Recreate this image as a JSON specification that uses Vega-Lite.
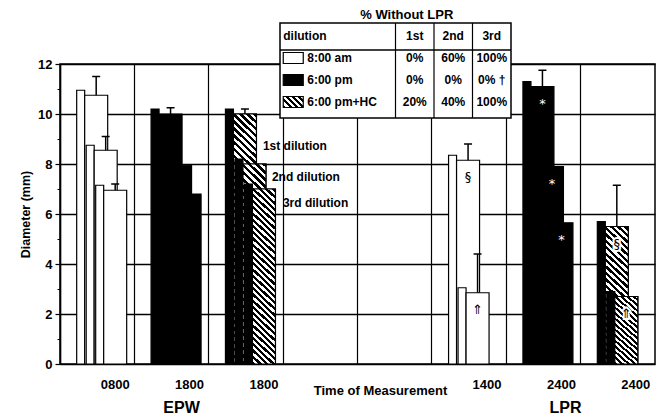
{
"$schema":"https://vega.github.io/schema/vega-lite/v6.json",
"width":595,"height":300,
"autosize":"none",
"padding":{"left":60,"top":64,"right":3,"bottom":55},
"background":"white",
"config":{"font":"Liberation Sans","view":{"stroke":"#000","strokeWidth":1.5},"axis":{"labelColor":"#000","titleColor":"#000"}},
"datasets":{
"bars":[
{"slot":"0800|EPW 8am","dil":"1st","time":"8:00 am","v":10.75,"err":11.5,"sym":""},
{"slot":"0800|EPW 8am","dil":"2nd","time":"8:00 am","v":8.55,"err":9.1,"sym":""},
{"slot":"0800|EPW 8am","dil":"3rd","time":"8:00 am","v":6.95,"err":7.2,"sym":""},
{"slot":"1800|EPW 6pm","dil":"1st","time":"6:00 pm","v":10.0,"err":10.25,"sym":""},
{"slot":"1800|EPW 6pm","dil":"2nd","time":"6:00 pm","v":7.95,"err":null,"sym":""},
{"slot":"1800|EPW 6pm","dil":"3rd","time":"6:00 pm","v":6.8,"err":null,"sym":""},
{"slot":"1800|EPW HC","dil":"1st","time":"6:00 pm+HC","v":10.0,"err":10.2,"sym":""},
{"slot":"1800|EPW HC","dil":"2nd","time":"6:00 pm+HC","v":8.0,"err":null,"sym":""},
{"slot":"1800|EPW HC","dil":"3rd","time":"6:00 pm+HC","v":7.0,"err":null,"sym":""},
{"slot":"1400|LPR 8am","dil":"1st","time":"8:00 am","v":8.15,"err":8.8,"sym":"§"},
{"slot":"1400|LPR 8am","dil":"2nd","time":"8:00 am","v":2.85,"err":4.4,"sym":"⇑"},
{"slot":"2400|LPR 6pm","dil":"1st","time":"6:00 pm","v":11.1,"err":11.75,"sym":"*"},
{"slot":"2400|LPR 6pm","dil":"2nd","time":"6:00 pm","v":7.9,"err":null,"sym":"*"},
{"slot":"2400|LPR 6pm","dil":"3rd","time":"6:00 pm","v":5.65,"err":null,"sym":"*"},
{"slot":"2400|LPR HC","dil":"1st","time":"6:00 pm+HC","v":5.5,"err":7.15,"sym":"§"},
{"slot":"2400|LPR HC","dil":"2nd","time":"6:00 pm+HC","v":2.7,"err":null,"sym":"⇑"}
],
"tbl":[
{"row":"h","col":"1st","txt":"1st"},{"row":"h","col":"2nd","txt":"2nd"},{"row":"h","col":"3rd","txt":"3rd"},
{"row":"r1","col":"1st","txt":"0%"},{"row":"r1","col":"2nd","txt":"60%"},{"row":"r1","col":"3rd","txt":"100%"},
{"row":"r2","col":"1st","txt":"0%"},{"row":"r2","col":"2nd","txt":"0%"},{"row":"r2","col":"3rd","txt":"0% †"},
{"row":"r3","col":"1st","txt":"20%"},{"row":"r3","col":"2nd","txt":"40%"},{"row":"r3","col":"3rd","txt":"100%"}
],
"rows":[{"row":"r1","time":"8:00 am"},{"row":"r2","time":"6:00 pm"},{"row":"r3","time":"6:00 pm+HC"}]
},
"layer":[
{
"resolve":{"axis":{"y":"independent"}},
"layer":[
{"data":{"values":[{}]},"mark":{"type":"rule","opacity":0},"encoding":{"y":{"datum":0,"type":"quantitative","scale":{"domain":[0,12],"nice":false},"axis":{"orient":"left","values":[1,3,5,7,9,11],"labels":false,"domain":false,"grid":false,"tickSize":3,"tickColor":"#000","tickWidth":1,"title":null}}}},
{
"data":{"name":"bars"},
"encoding":{
"x":{"field":"slot","type":"nominal","sort":null,"scale":{"type":"band","domain":["0800|EPW 8am","1800|EPW 6pm","1800|EPW HC","|a","|b","1400|LPR 8am","2400|LPR 6pm","2400|LPR HC"],"paddingInner":0,"paddingOuter":0},
"axis":{"title":"Time of Measurement","titleX":320,"titleY":26,"titleBaseline":"middle","titleAlign":"center","titleFontSize":13,"titleFontWeight":"bold","labelExpr":"split(datum.label,'|')[0]","bandPosition":0,"labelOffset":18,"labelPadding":14,"labelFontSize":13,"labelFontWeight":"bold","labelAngle":0,"labelOverlap":false,"ticks":false,"tickSize":0,"domain":false,"grid":true,"gridColor":"#000","gridWidth":1.2,"gridOpacity":1}},
"y":{"field":"v","type":"quantitative","stack":null,"scale":{"domain":[0,12],"nice":false},
"axis":{"orient":"left","title":"Diameter (mm)","values":[0,2,4,6,8,10,12],"grid":true,"gridColor":"#000","gridWidth":1.5,"gridOpacity":1,"tickColor":"#000","tickSize":5,"tickWidth":1.2,"domainColor":"#000","domainWidth":1.5,"labelFontSize":13,"labelFontWeight":"bold","labelPadding":3,"titleFontSize":12.5,"titleFontWeight":"bold","titlePadding":5}}
},
"layer":[
{"transform":[{"filter":"datum.dil=='1st'"}],"mark":{"type":"bar","width":8,"xOffset":-16.5,"yOffset":-5,"y2Offset":4,"stroke":"#000","strokeWidth":1.2},"encoding":{"fill":{"condition":{"test":"datum.time=='8:00 am'","value":"#fff"},"value":"#000"}}},
{"transform":[{"filter":"datum.dil=='1st'"}],"mark":{"type":"bar","width":23,"xOffset":-1,"y2Offset":9,"stroke":"#000","strokeWidth":1.2},"encoding":{"fill":{"condition":{"test":"datum.time=='6:00 pm'","value":"#000"},"value":"#fff"}}},
{"transform":[{"filter":"datum.dil=='1st' && datum.slot=='1800|EPW HC'"}],"mark":{"type":"bar","width":23,"xOffset":-1,"y2Offset":9,"stroke":"#000","strokeWidth":1.2,"fill":{"gradient":"linear","x1":0,"y1":1,"x2":0.0971,"y2":-0.094,"stops":[
{"offset":0,"color":"#000"},{"offset":0.0125,"color":"#000"},{"offset":0.0125,"color":"#fff"},{"offset":0.025,"color":"#fff"},
{"offset":0.025,"color":"#000"},{"offset":0.0375,"color":"#000"},{"offset":0.0375,"color":"#fff"},{"offset":0.05,"color":"#fff"},
{"offset":0.05,"color":"#000"},{"offset":0.0625,"color":"#000"},{"offset":0.0625,"color":"#fff"},{"offset":0.075,"color":"#fff"},
{"offset":0.075,"color":"#000"},{"offset":0.0875,"color":"#000"},{"offset":0.0875,"color":"#fff"},{"offset":0.1,"color":"#fff"},
{"offset":0.1,"color":"#000"},{"offset":0.1125,"color":"#000"},{"offset":0.1125,"color":"#fff"},{"offset":0.125,"color":"#fff"},
{"offset":0.125,"color":"#000"},{"offset":0.1375,"color":"#000"},{"offset":0.1375,"color":"#fff"},{"offset":0.15,"color":"#fff"},
{"offset":0.15,"color":"#000"},{"offset":0.1625,"color":"#000"},{"offset":0.1625,"color":"#fff"},{"offset":0.175,"color":"#fff"},
{"offset":0.175,"color":"#000"},{"offset":0.1875,"color":"#000"},{"offset":0.1875,"color":"#fff"},{"offset":0.2,"color":"#fff"},
{"offset":0.2,"color":"#000"},{"offset":0.2125,"color":"#000"},{"offset":0.2125,"color":"#fff"},{"offset":0.225,"color":"#fff"},
{"offset":0.225,"color":"#000"},{"offset":0.2375,"color":"#000"},{"offset":0.2375,"color":"#fff"},{"offset":0.25,"color":"#fff"},
{"offset":0.25,"color":"#000"},{"offset":0.2625,"color":"#000"},{"offset":0.2625,"color":"#fff"},{"offset":0.275,"color":"#fff"},
{"offset":0.275,"color":"#000"},{"offset":0.2875,"color":"#000"},{"offset":0.2875,"color":"#fff"},{"offset":0.3,"color":"#fff"},
{"offset":0.3,"color":"#000"},{"offset":0.3125,"color":"#000"},{"offset":0.3125,"color":"#fff"},{"offset":0.325,"color":"#fff"},
{"offset":0.325,"color":"#000"},{"offset":0.3375,"color":"#000"},{"offset":0.3375,"color":"#fff"},{"offset":0.35,"color":"#fff"},
{"offset":0.35,"color":"#000"},{"offset":0.3625,"color":"#000"},{"offset":0.3625,"color":"#fff"},{"offset":0.375,"color":"#fff"},
{"offset":0.375,"color":"#000"},{"offset":0.3875,"color":"#000"},{"offset":0.3875,"color":"#fff"},{"offset":0.4,"color":"#fff"},
{"offset":0.4,"color":"#000"},{"offset":0.4125,"color":"#000"},{"offset":0.4125,"color":"#fff"},{"offset":0.425,"color":"#fff"},
{"offset":0.425,"color":"#000"},{"offset":0.4375,"color":"#000"},{"offset":0.4375,"color":"#fff"},{"offset":0.45,"color":"#fff"},
{"offset":0.45,"color":"#000"},{"offset":0.4625,"color":"#000"},{"offset":0.4625,"color":"#fff"},{"offset":0.475,"color":"#fff"},
{"offset":0.475,"color":"#000"},{"offset":0.4875,"color":"#000"},{"offset":0.4875,"color":"#fff"},{"offset":0.5,"color":"#fff"},
{"offset":0.5,"color":"#000"},{"offset":0.5125,"color":"#000"},{"offset":0.5125,"color":"#fff"},{"offset":0.525,"color":"#fff"},
{"offset":0.525,"color":"#000"},{"offset":0.5375,"color":"#000"},{"offset":0.5375,"color":"#fff"},{"offset":0.55,"color":"#fff"},
{"offset":0.55,"color":"#000"},{"offset":0.5625,"color":"#000"},{"offset":0.5625,"color":"#fff"},{"offset":0.575,"color":"#fff"},
{"offset":0.575,"color":"#000"},{"offset":0.5875,"color":"#000"},{"offset":0.5875,"color":"#fff"},{"offset":0.6,"color":"#fff"},
{"offset":0.6,"color":"#000"},{"offset":0.6125,"color":"#000"},{"offset":0.6125,"color":"#fff"},{"offset":0.625,"color":"#fff"},
{"offset":0.625,"color":"#000"},{"offset":0.6375,"color":"#000"},{"offset":0.6375,"color":"#fff"},{"offset":0.65,"color":"#fff"},
{"offset":0.65,"color":"#000"},{"offset":0.6625,"color":"#000"},{"offset":0.6625,"color":"#fff"},{"offset":0.675,"color":"#fff"},
{"offset":0.675,"color":"#000"},{"offset":0.6875,"color":"#000"},{"offset":0.6875,"color":"#fff"},{"offset":0.7,"color":"#fff"},
{"offset":0.7,"color":"#000"},{"offset":0.7125,"color":"#000"},{"offset":0.7125,"color":"#fff"},{"offset":0.725,"color":"#fff"},
{"offset":0.725,"color":"#000"},{"offset":0.7375,"color":"#000"},{"offset":0.7375,"color":"#fff"},{"offset":0.75,"color":"#fff"},
{"offset":0.75,"color":"#000"},{"offset":0.7625,"color":"#000"},{"offset":0.7625,"color":"#fff"},{"offset":0.775,"color":"#fff"},
{"offset":0.775,"color":"#000"},{"offset":0.7875,"color":"#000"},{"offset":0.7875,"color":"#fff"},{"offset":0.8,"color":"#fff"},
{"offset":0.8,"color":"#000"},{"offset":0.8125,"color":"#000"},{"offset":0.8125,"color":"#fff"},{"offset":0.825,"color":"#fff"},
{"offset":0.825,"color":"#000"},{"offset":0.8375,"color":"#000"},{"offset":0.8375,"color":"#fff"},{"offset":0.85,"color":"#fff"},
{"offset":0.85,"color":"#000"},{"offset":0.8625,"color":"#000"},{"offset":0.8625,"color":"#fff"},{"offset":0.875,"color":"#fff"},
{"offset":0.875,"color":"#000"},{"offset":0.8875,"color":"#000"},{"offset":0.8875,"color":"#fff"},{"offset":0.9,"color":"#fff"},
{"offset":0.9,"color":"#000"},{"offset":0.9125,"color":"#000"},{"offset":0.9125,"color":"#fff"},{"offset":0.925,"color":"#fff"},
{"offset":0.925,"color":"#000"},{"offset":0.9375,"color":"#000"},{"offset":0.9375,"color":"#fff"},{"offset":0.95,"color":"#fff"},
{"offset":0.95,"color":"#000"},{"offset":0.9625,"color":"#000"},{"offset":0.9625,"color":"#fff"},{"offset":0.975,"color":"#fff"},
{"offset":0.975,"color":"#000"},{"offset":0.9875,"color":"#000"},{"offset":0.9875,"color":"#fff"},{"offset":1,"color":"#fff"}
]}}},
{"transform":[{"filter":"datum.dil=='1st' && datum.slot=='2400|LPR HC'"}],"mark":{"type":"bar","width":23,"xOffset":-1,"y2Offset":9,"stroke":"#000","strokeWidth":1.2,"fill":{"gradient":"linear","x1":0,"y1":1,"x2":0.179,"y2":-0.14,"stops":[
{"offset":0,"color":"#000"},{"offset":0.02,"color":"#000"},{"offset":0.02,"color":"#fff"},{"offset":0.04,"color":"#fff"},
{"offset":0.04,"color":"#000"},{"offset":0.06,"color":"#000"},{"offset":0.06,"color":"#fff"},{"offset":0.08,"color":"#fff"},
{"offset":0.08,"color":"#000"},{"offset":0.1,"color":"#000"},{"offset":0.1,"color":"#fff"},{"offset":0.12,"color":"#fff"},
{"offset":0.12,"color":"#000"},{"offset":0.14,"color":"#000"},{"offset":0.14,"color":"#fff"},{"offset":0.16,"color":"#fff"},
{"offset":0.16,"color":"#000"},{"offset":0.18,"color":"#000"},{"offset":0.18,"color":"#fff"},{"offset":0.2,"color":"#fff"},
{"offset":0.2,"color":"#000"},{"offset":0.22,"color":"#000"},{"offset":0.22,"color":"#fff"},{"offset":0.24,"color":"#fff"},
{"offset":0.24,"color":"#000"},{"offset":0.26,"color":"#000"},{"offset":0.26,"color":"#fff"},{"offset":0.28,"color":"#fff"},
{"offset":0.28,"color":"#000"},{"offset":0.3,"color":"#000"},{"offset":0.3,"color":"#fff"},{"offset":0.32,"color":"#fff"},
{"offset":0.32,"color":"#000"},{"offset":0.34,"color":"#000"},{"offset":0.34,"color":"#fff"},{"offset":0.36,"color":"#fff"},
{"offset":0.36,"color":"#000"},{"offset":0.38,"color":"#000"},{"offset":0.38,"color":"#fff"},{"offset":0.4,"color":"#fff"},
{"offset":0.4,"color":"#000"},{"offset":0.42,"color":"#000"},{"offset":0.42,"color":"#fff"},{"offset":0.44,"color":"#fff"},
{"offset":0.44,"color":"#000"},{"offset":0.46,"color":"#000"},{"offset":0.46,"color":"#fff"},{"offset":0.48,"color":"#fff"},
{"offset":0.48,"color":"#000"},{"offset":0.5,"color":"#000"},{"offset":0.5,"color":"#fff"},{"offset":0.52,"color":"#fff"},
{"offset":0.52,"color":"#000"},{"offset":0.54,"color":"#000"},{"offset":0.54,"color":"#fff"},{"offset":0.56,"color":"#fff"},
{"offset":0.56,"color":"#000"},{"offset":0.58,"color":"#000"},{"offset":0.58,"color":"#fff"},{"offset":0.6,"color":"#fff"},
{"offset":0.6,"color":"#000"},{"offset":0.62,"color":"#000"},{"offset":0.62,"color":"#fff"},{"offset":0.64,"color":"#fff"},
{"offset":0.64,"color":"#000"},{"offset":0.66,"color":"#000"},{"offset":0.66,"color":"#fff"},{"offset":0.68,"color":"#fff"},
{"offset":0.68,"color":"#000"},{"offset":0.7,"color":"#000"},{"offset":0.7,"color":"#fff"},{"offset":0.72,"color":"#fff"},
{"offset":0.72,"color":"#000"},{"offset":0.74,"color":"#000"},{"offset":0.74,"color":"#fff"},{"offset":0.76,"color":"#fff"},
{"offset":0.76,"color":"#000"},{"offset":0.78,"color":"#000"},{"offset":0.78,"color":"#fff"},{"offset":0.8,"color":"#fff"},
{"offset":0.8,"color":"#000"},{"offset":0.82,"color":"#000"},{"offset":0.82,"color":"#fff"},{"offset":0.84,"color":"#fff"},
{"offset":0.84,"color":"#000"},{"offset":0.86,"color":"#000"},{"offset":0.86,"color":"#fff"},{"offset":0.88,"color":"#fff"},
{"offset":0.88,"color":"#000"},{"offset":0.9,"color":"#000"},{"offset":0.9,"color":"#fff"},{"offset":0.92,"color":"#fff"},
{"offset":0.92,"color":"#000"},{"offset":0.94,"color":"#000"},{"offset":0.94,"color":"#fff"},{"offset":0.96,"color":"#fff"},
{"offset":0.96,"color":"#000"},{"offset":0.98,"color":"#000"},{"offset":0.98,"color":"#fff"},{"offset":1,"color":"#fff"}
]}}},
{"transform":[{"filter":"datum.dil=='1st' && isValid(datum.err)"}],"mark":{"type":"rule","xOffset":-1,"strokeWidth":1.5,"color":"#000"},"encoding":{"y2":{"field":"err"}}},
{"transform":[{"filter":"datum.dil=='1st' && isValid(datum.err)"}],"mark":{"type":"tick","orient":"horizontal","xOffset":-1,"size":8,"thickness":1.5,"color":"#000","opacity":1},"encoding":{"y":{"field":"err","type":"quantitative"}}},
{"transform":[{"filter":"datum.dil=='1st' && datum.time=='6:00 pm+HC' && datum.sym!=''"}],"mark":{"type":"text","dx":-1,"dy":17,"fontSize":13,"font":"DejaVu Sans","fill":"#fff","stroke":"#fff","strokeWidth":4},"encoding":{"text":{"field":"sym"}}},
{"transform":[{"filter":"datum.dil=='1st' && datum.sym!=''"}],"mark":{"type":"text","dx":-1,"dy":17,"fontSize":13,"font":"DejaVu Sans"},"encoding":{"text":{"field":"sym"},"color":{"condition":{"test":"datum.time=='6:00 pm'","value":"#fff"},"value":"#000"}}},

{"transform":[{"filter":"datum.dil=='2nd'"}],"mark":{"type":"bar","width":8,"xOffset":-7,"yOffset":-5,"y2Offset":4,"stroke":"#000","strokeWidth":1.2},"encoding":{"fill":{"condition":{"test":"datum.time=='8:00 am'","value":"#fff"},"value":"#000"}}},
{"transform":[{"filter":"datum.dil=='2nd'"}],"mark":{"type":"bar","width":23,"xOffset":8.5,"y2Offset":9,"stroke":"#000","strokeWidth":1.2},"encoding":{"fill":{"condition":{"test":"datum.time=='6:00 pm'","value":"#000"},"value":"#fff"}}},
{"transform":[{"filter":"datum.dil=='2nd' && datum.slot=='1800|EPW HC'"}],"mark":{"type":"bar","width":23,"xOffset":8.5,"y2Offset":9,"stroke":"#000","strokeWidth":1.2,"fill":{"gradient":"linear","x1":0,"y1":1,"x2":0.1224,"y2":-0.1125,"stops":[
{"offset":0,"color":"#000"},{"offset":0.015625,"color":"#000"},{"offset":0.015625,"color":"#fff"},{"offset":0.03125,"color":"#fff"},
{"offset":0.03125,"color":"#000"},{"offset":0.046875,"color":"#000"},{"offset":0.046875,"color":"#fff"},{"offset":0.0625,"color":"#fff"},
{"offset":0.0625,"color":"#000"},{"offset":0.078125,"color":"#000"},{"offset":0.078125,"color":"#fff"},{"offset":0.09375,"color":"#fff"},
{"offset":0.09375,"color":"#000"},{"offset":0.109375,"color":"#000"},{"offset":0.109375,"color":"#fff"},{"offset":0.125,"color":"#fff"},
{"offset":0.125,"color":"#000"},{"offset":0.140625,"color":"#000"},{"offset":0.140625,"color":"#fff"},{"offset":0.15625,"color":"#fff"},
{"offset":0.15625,"color":"#000"},{"offset":0.171875,"color":"#000"},{"offset":0.171875,"color":"#fff"},{"offset":0.1875,"color":"#fff"},
{"offset":0.1875,"color":"#000"},{"offset":0.203125,"color":"#000"},{"offset":0.203125,"color":"#fff"},{"offset":0.21875,"color":"#fff"},
{"offset":0.21875,"color":"#000"},{"offset":0.234375,"color":"#000"},{"offset":0.234375,"color":"#fff"},{"offset":0.25,"color":"#fff"},
{"offset":0.25,"color":"#000"},{"offset":0.265625,"color":"#000"},{"offset":0.265625,"color":"#fff"},{"offset":0.28125,"color":"#fff"},
{"offset":0.28125,"color":"#000"},{"offset":0.296875,"color":"#000"},{"offset":0.296875,"color":"#fff"},{"offset":0.3125,"color":"#fff"},
{"offset":0.3125,"color":"#000"},{"offset":0.328125,"color":"#000"},{"offset":0.328125,"color":"#fff"},{"offset":0.34375,"color":"#fff"},
{"offset":0.34375,"color":"#000"},{"offset":0.359375,"color":"#000"},{"offset":0.359375,"color":"#fff"},{"offset":0.375,"color":"#fff"},
{"offset":0.375,"color":"#000"},{"offset":0.390625,"color":"#000"},{"offset":0.390625,"color":"#fff"},{"offset":0.40625,"color":"#fff"},
{"offset":0.40625,"color":"#000"},{"offset":0.421875,"color":"#000"},{"offset":0.421875,"color":"#fff"},{"offset":0.4375,"color":"#fff"},
{"offset":0.4375,"color":"#000"},{"offset":0.453125,"color":"#000"},{"offset":0.453125,"color":"#fff"},{"offset":0.46875,"color":"#fff"},
{"offset":0.46875,"color":"#000"},{"offset":0.484375,"color":"#000"},{"offset":0.484375,"color":"#fff"},{"offset":0.5,"color":"#fff"},
{"offset":0.5,"color":"#000"},{"offset":0.515625,"color":"#000"},{"offset":0.515625,"color":"#fff"},{"offset":0.53125,"color":"#fff"},
{"offset":0.53125,"color":"#000"},{"offset":0.546875,"color":"#000"},{"offset":0.546875,"color":"#fff"},{"offset":0.5625,"color":"#fff"},
{"offset":0.5625,"color":"#000"},{"offset":0.578125,"color":"#000"},{"offset":0.578125,"color":"#fff"},{"offset":0.59375,"color":"#fff"},
{"offset":0.59375,"color":"#000"},{"offset":0.609375,"color":"#000"},{"offset":0.609375,"color":"#fff"},{"offset":0.625,"color":"#fff"},
{"offset":0.625,"color":"#000"},{"offset":0.640625,"color":"#000"},{"offset":0.640625,"color":"#fff"},{"offset":0.65625,"color":"#fff"},
{"offset":0.65625,"color":"#000"},{"offset":0.671875,"color":"#000"},{"offset":0.671875,"color":"#fff"},{"offset":0.6875,"color":"#fff"},
{"offset":0.6875,"color":"#000"},{"offset":0.703125,"color":"#000"},{"offset":0.703125,"color":"#fff"},{"offset":0.71875,"color":"#fff"},
{"offset":0.71875,"color":"#000"},{"offset":0.734375,"color":"#000"},{"offset":0.734375,"color":"#fff"},{"offset":0.75,"color":"#fff"},
{"offset":0.75,"color":"#000"},{"offset":0.765625,"color":"#000"},{"offset":0.765625,"color":"#fff"},{"offset":0.78125,"color":"#fff"},
{"offset":0.78125,"color":"#000"},{"offset":0.796875,"color":"#000"},{"offset":0.796875,"color":"#fff"},{"offset":0.8125,"color":"#fff"},
{"offset":0.8125,"color":"#000"},{"offset":0.828125,"color":"#000"},{"offset":0.828125,"color":"#fff"},{"offset":0.84375,"color":"#fff"},
{"offset":0.84375,"color":"#000"},{"offset":0.859375,"color":"#000"},{"offset":0.859375,"color":"#fff"},{"offset":0.875,"color":"#fff"},
{"offset":0.875,"color":"#000"},{"offset":0.890625,"color":"#000"},{"offset":0.890625,"color":"#fff"},{"offset":0.90625,"color":"#fff"},
{"offset":0.90625,"color":"#000"},{"offset":0.921875,"color":"#000"},{"offset":0.921875,"color":"#fff"},{"offset":0.9375,"color":"#fff"},
{"offset":0.9375,"color":"#000"},{"offset":0.953125,"color":"#000"},{"offset":0.953125,"color":"#fff"},{"offset":0.96875,"color":"#fff"},
{"offset":0.96875,"color":"#000"},{"offset":0.984375,"color":"#000"},{"offset":0.984375,"color":"#fff"},{"offset":1,"color":"#fff"}
]}}},
{"transform":[{"filter":"datum.dil=='2nd' && datum.slot=='2400|LPR HC'"}],"mark":{"type":"bar","width":23,"xOffset":8.5,"y2Offset":9,"stroke":"#000","strokeWidth":1.2,"fill":{"gradient":"linear","x1":0,"y1":1,"x2":0.361,"y2":-0.2,"stops":[
{"offset":0,"color":"#000"},{"offset":0.03125,"color":"#000"},{"offset":0.03125,"color":"#fff"},{"offset":0.0625,"color":"#fff"},
{"offset":0.0625,"color":"#000"},{"offset":0.09375,"color":"#000"},{"offset":0.09375,"color":"#fff"},{"offset":0.125,"color":"#fff"},
{"offset":0.125,"color":"#000"},{"offset":0.15625,"color":"#000"},{"offset":0.15625,"color":"#fff"},{"offset":0.1875,"color":"#fff"},
{"offset":0.1875,"color":"#000"},{"offset":0.21875,"color":"#000"},{"offset":0.21875,"color":"#fff"},{"offset":0.25,"color":"#fff"},
{"offset":0.25,"color":"#000"},{"offset":0.28125,"color":"#000"},{"offset":0.28125,"color":"#fff"},{"offset":0.3125,"color":"#fff"},
{"offset":0.3125,"color":"#000"},{"offset":0.34375,"color":"#000"},{"offset":0.34375,"color":"#fff"},{"offset":0.375,"color":"#fff"},
{"offset":0.375,"color":"#000"},{"offset":0.40625,"color":"#000"},{"offset":0.40625,"color":"#fff"},{"offset":0.4375,"color":"#fff"},
{"offset":0.4375,"color":"#000"},{"offset":0.46875,"color":"#000"},{"offset":0.46875,"color":"#fff"},{"offset":0.5,"color":"#fff"},
{"offset":0.5,"color":"#000"},{"offset":0.53125,"color":"#000"},{"offset":0.53125,"color":"#fff"},{"offset":0.5625,"color":"#fff"},
{"offset":0.5625,"color":"#000"},{"offset":0.59375,"color":"#000"},{"offset":0.59375,"color":"#fff"},{"offset":0.625,"color":"#fff"},
{"offset":0.625,"color":"#000"},{"offset":0.65625,"color":"#000"},{"offset":0.65625,"color":"#fff"},{"offset":0.6875,"color":"#fff"},
{"offset":0.6875,"color":"#000"},{"offset":0.71875,"color":"#000"},{"offset":0.71875,"color":"#fff"},{"offset":0.75,"color":"#fff"},
{"offset":0.75,"color":"#000"},{"offset":0.78125,"color":"#000"},{"offset":0.78125,"color":"#fff"},{"offset":0.8125,"color":"#fff"},
{"offset":0.8125,"color":"#000"},{"offset":0.84375,"color":"#000"},{"offset":0.84375,"color":"#fff"},{"offset":0.875,"color":"#fff"},
{"offset":0.875,"color":"#000"},{"offset":0.90625,"color":"#000"},{"offset":0.90625,"color":"#fff"},{"offset":0.9375,"color":"#fff"},
{"offset":0.9375,"color":"#000"},{"offset":0.96875,"color":"#000"},{"offset":0.96875,"color":"#fff"},{"offset":1,"color":"#fff"}
]}}},
{"transform":[{"filter":"datum.dil=='2nd' && isValid(datum.err)"}],"mark":{"type":"rule","xOffset":8.5,"strokeWidth":1.5,"color":"#000"},"encoding":{"y2":{"field":"err"}}},
{"transform":[{"filter":"datum.dil=='2nd' && isValid(datum.err)"}],"mark":{"type":"tick","orient":"horizontal","xOffset":8.5,"size":8,"thickness":1.5,"color":"#000","opacity":1},"encoding":{"y":{"field":"err","type":"quantitative"}}},
{"transform":[{"filter":"datum.dil=='2nd' && datum.time=='6:00 pm+HC' && datum.sym!=''"}],"mark":{"type":"text","dx":8.5,"dy":17,"fontSize":13,"font":"DejaVu Sans","fill":"#fff","stroke":"#fff","strokeWidth":4},"encoding":{"text":{"field":"sym"}}},
{"transform":[{"filter":"datum.dil=='2nd' && datum.sym!=''"}],"mark":{"type":"text","dx":8.5,"dy":17,"fontSize":13,"font":"DejaVu Sans"},"encoding":{"text":{"field":"sym"},"color":{"condition":{"test":"datum.time=='6:00 pm'","value":"#fff"},"value":"#000"}}},

{"transform":[{"filter":"datum.dil=='3rd'"}],"mark":{"type":"bar","width":8,"xOffset":2.5,"yOffset":-5,"y2Offset":4,"stroke":"#000","strokeWidth":1.2},"encoding":{"fill":{"condition":{"test":"datum.time=='8:00 am'","value":"#fff"},"value":"#000"}}},
{"transform":[{"filter":"datum.dil=='3rd'"}],"mark":{"type":"bar","width":23,"xOffset":18,"y2Offset":9,"stroke":"#000","strokeWidth":1.2},"encoding":{"fill":{"condition":{"test":"datum.time=='6:00 pm'","value":"#000"},"value":"#fff"}}},
{"transform":[{"filter":"datum.dil=='3rd' && datum.slot=='1800|EPW HC'"}],"mark":{"type":"bar","width":23,"xOffset":18,"y2Offset":9,"stroke":"#000","strokeWidth":1.2,"fill":{"gradient":"linear","x1":0,"y1":1,"x2":0.14,"y2":-0.12,"stops":[
{"offset":0,"color":"#000"},{"offset":0.015625,"color":"#000"},{"offset":0.015625,"color":"#fff"},{"offset":0.03125,"color":"#fff"},
{"offset":0.03125,"color":"#000"},{"offset":0.046875,"color":"#000"},{"offset":0.046875,"color":"#fff"},{"offset":0.0625,"color":"#fff"},
{"offset":0.0625,"color":"#000"},{"offset":0.078125,"color":"#000"},{"offset":0.078125,"color":"#fff"},{"offset":0.09375,"color":"#fff"},
{"offset":0.09375,"color":"#000"},{"offset":0.109375,"color":"#000"},{"offset":0.109375,"color":"#fff"},{"offset":0.125,"color":"#fff"},
{"offset":0.125,"color":"#000"},{"offset":0.140625,"color":"#000"},{"offset":0.140625,"color":"#fff"},{"offset":0.15625,"color":"#fff"},
{"offset":0.15625,"color":"#000"},{"offset":0.171875,"color":"#000"},{"offset":0.171875,"color":"#fff"},{"offset":0.1875,"color":"#fff"},
{"offset":0.1875,"color":"#000"},{"offset":0.203125,"color":"#000"},{"offset":0.203125,"color":"#fff"},{"offset":0.21875,"color":"#fff"},
{"offset":0.21875,"color":"#000"},{"offset":0.234375,"color":"#000"},{"offset":0.234375,"color":"#fff"},{"offset":0.25,"color":"#fff"},
{"offset":0.25,"color":"#000"},{"offset":0.265625,"color":"#000"},{"offset":0.265625,"color":"#fff"},{"offset":0.28125,"color":"#fff"},
{"offset":0.28125,"color":"#000"},{"offset":0.296875,"color":"#000"},{"offset":0.296875,"color":"#fff"},{"offset":0.3125,"color":"#fff"},
{"offset":0.3125,"color":"#000"},{"offset":0.328125,"color":"#000"},{"offset":0.328125,"color":"#fff"},{"offset":0.34375,"color":"#fff"},
{"offset":0.34375,"color":"#000"},{"offset":0.359375,"color":"#000"},{"offset":0.359375,"color":"#fff"},{"offset":0.375,"color":"#fff"},
{"offset":0.375,"color":"#000"},{"offset":0.390625,"color":"#000"},{"offset":0.390625,"color":"#fff"},{"offset":0.40625,"color":"#fff"},
{"offset":0.40625,"color":"#000"},{"offset":0.421875,"color":"#000"},{"offset":0.421875,"color":"#fff"},{"offset":0.4375,"color":"#fff"},
{"offset":0.4375,"color":"#000"},{"offset":0.453125,"color":"#000"},{"offset":0.453125,"color":"#fff"},{"offset":0.46875,"color":"#fff"},
{"offset":0.46875,"color":"#000"},{"offset":0.484375,"color":"#000"},{"offset":0.484375,"color":"#fff"},{"offset":0.5,"color":"#fff"},
{"offset":0.5,"color":"#000"},{"offset":0.515625,"color":"#000"},{"offset":0.515625,"color":"#fff"},{"offset":0.53125,"color":"#fff"},
{"offset":0.53125,"color":"#000"},{"offset":0.546875,"color":"#000"},{"offset":0.546875,"color":"#fff"},{"offset":0.5625,"color":"#fff"},
{"offset":0.5625,"color":"#000"},{"offset":0.578125,"color":"#000"},{"offset":0.578125,"color":"#fff"},{"offset":0.59375,"color":"#fff"},
{"offset":0.59375,"color":"#000"},{"offset":0.609375,"color":"#000"},{"offset":0.609375,"color":"#fff"},{"offset":0.625,"color":"#fff"},
{"offset":0.625,"color":"#000"},{"offset":0.640625,"color":"#000"},{"offset":0.640625,"color":"#fff"},{"offset":0.65625,"color":"#fff"},
{"offset":0.65625,"color":"#000"},{"offset":0.671875,"color":"#000"},{"offset":0.671875,"color":"#fff"},{"offset":0.6875,"color":"#fff"},
{"offset":0.6875,"color":"#000"},{"offset":0.703125,"color":"#000"},{"offset":0.703125,"color":"#fff"},{"offset":0.71875,"color":"#fff"},
{"offset":0.71875,"color":"#000"},{"offset":0.734375,"color":"#000"},{"offset":0.734375,"color":"#fff"},{"offset":0.75,"color":"#fff"},
{"offset":0.75,"color":"#000"},{"offset":0.765625,"color":"#000"},{"offset":0.765625,"color":"#fff"},{"offset":0.78125,"color":"#fff"},
{"offset":0.78125,"color":"#000"},{"offset":0.796875,"color":"#000"},{"offset":0.796875,"color":"#fff"},{"offset":0.8125,"color":"#fff"},
{"offset":0.8125,"color":"#000"},{"offset":0.828125,"color":"#000"},{"offset":0.828125,"color":"#fff"},{"offset":0.84375,"color":"#fff"},
{"offset":0.84375,"color":"#000"},{"offset":0.859375,"color":"#000"},{"offset":0.859375,"color":"#fff"},{"offset":0.875,"color":"#fff"},
{"offset":0.875,"color":"#000"},{"offset":0.890625,"color":"#000"},{"offset":0.890625,"color":"#fff"},{"offset":0.90625,"color":"#fff"},
{"offset":0.90625,"color":"#000"},{"offset":0.921875,"color":"#000"},{"offset":0.921875,"color":"#fff"},{"offset":0.9375,"color":"#fff"},
{"offset":0.9375,"color":"#000"},{"offset":0.953125,"color":"#000"},{"offset":0.953125,"color":"#fff"},{"offset":0.96875,"color":"#fff"},
{"offset":0.96875,"color":"#000"},{"offset":0.984375,"color":"#000"},{"offset":0.984375,"color":"#fff"},{"offset":1,"color":"#fff"}
]}}},
{"transform":[{"filter":"datum.dil=='3rd' && isValid(datum.err)"}],"mark":{"type":"rule","xOffset":18,"strokeWidth":1.5,"color":"#000"},"encoding":{"y2":{"field":"err"}}},
{"transform":[{"filter":"datum.dil=='3rd' && isValid(datum.err)"}],"mark":{"type":"tick","orient":"horizontal","xOffset":18,"size":8,"thickness":1.5,"color":"#000","opacity":1},"encoding":{"y":{"field":"err","type":"quantitative"}}},
{"transform":[{"filter":"datum.dil=='3rd' && datum.sym!=''"}],"mark":{"type":"text","dx":18,"dy":17,"fontSize":13,"font":"DejaVu Sans"},"encoding":{"text":{"field":"sym"},"color":{"condition":{"test":"datum.time=='6:00 pm'","value":"#fff"},"value":"#000"}}},

{"transform":[{"filter":"datum.slot=='1800|EPW HC' && datum.dil=='1st'"}],"mark":{"type":"text","align":"left","dx":17,"dy":32,"fontSize":12,"fontWeight":"bold","color":"#000","text":"1st dilution"}},
{"transform":[{"filter":"datum.slot=='1800|EPW HC' && datum.dil=='2nd'"}],"mark":{"type":"text","align":"left","dx":26,"dy":13,"fontSize":12,"fontWeight":"bold","color":"#000","text":"2nd dilution"}},
{"transform":[{"filter":"datum.slot=='1800|EPW HC' && datum.dil=='3rd'"}],"mark":{"type":"text","align":"left","dx":37,"dy":14,"fontSize":12,"fontWeight":"bold","color":"#000","text":"3rd dilution"}},
{"transform":[{"filter":"datum.slot=='1800|EPW 6pm' && datum.dil=='1st'"}],"mark":{"type":"text","dx":10,"dy":44,"fontSize":16,"fontWeight":"bold","color":"#000","text":"EPW"},"encoding":{"y":{"datum":0,"type":"quantitative"}}},
{"transform":[{"filter":"datum.slot=='2400|LPR 6pm' && datum.dil=='1st'"}],"mark":{"type":"text","dx":22,"dy":44,"fontSize":16,"fontWeight":"bold","color":"#000","text":"LPR"},"encoding":{"y":{"datum":0,"type":"quantitative"}}}
]
}
]
},
{
"layer":[
{"data":{"values":[{}]},"mark":{"type":"rect","fill":"#fff","stroke":"#000","strokeWidth":1.5,"yOffset":-13,"y2Offset":16},
"encoding":{"x":{"datum":"d1","type":"nominal","bandPosition":0,"scale":{"type":"band","domain":["d1","d2","d3","1st","2nd","3rd"],"range":[220,451],"paddingInner":0,"paddingOuter":0},"axis":null},"x2":{"datum":"3rd","bandPosition":1},"y":{"datum":"h","type":"nominal","scale":{"type":"point","domain":["h","r1","r2","r3"],"range":[-28,38],"padding":0},"axis":null},"y2":{"datum":"r3"}}},
{"data":{"values":[{}]},"mark":{"type":"rule","yOffset":14,"strokeWidth":1.5,"color":"#000"},
"encoding":{"x":{"datum":"d1","type":"nominal","bandPosition":0,"axis":null},"x2":{"datum":"3rd","bandPosition":1},"y":{"datum":"h","type":"nominal","axis":null}}},
{"data":{"name":"tbl"},"transform":[{"filter":"datum.row=='h'"}],"mark":{"type":"rule","yOffset":-13,"y2Offset":16,"strokeWidth":1.2,"color":"#000"},
"encoding":{"x":{"field":"col","type":"nominal","bandPosition":0,"axis":null},"y":{"datum":"h","type":"nominal","axis":null},"y2":{"datum":"r3"}}},
{"data":{"name":"tbl"},"mark":{"type":"text","fontSize":12,"fontWeight":"bold","color":"#000"},
"encoding":{"x":{"field":"col","type":"nominal","axis":null},"y":{"field":"row","type":"nominal","axis":null},"text":{"field":"txt"}}},
{"data":{"values":[{}]},"mark":{"type":"text","align":"left","dx":-16,"fontSize":12,"fontWeight":"bold","color":"#000","text":"dilution"},
"encoding":{"x":{"datum":"d1","type":"nominal","axis":null},"y":{"datum":"h","type":"nominal","axis":null}}},
{"data":{"name":"rows"},"mark":{"type":"text","align":"left","dx":8,"fontSize":12,"fontWeight":"bold","color":"#000"},
"encoding":{"x":{"datum":"d1","type":"nominal","axis":null},"y":{"field":"row","type":"nominal","axis":null},"text":{"field":"time"}}},
{"data":{"name":"rows"},"transform":[{"filter":"datum.row=='r1'"}],"mark":{"type":"point","shape":"M-1,-0.55L1,-0.55L1,0.55L-1,0.55Z","size":400,"filled":true,"fill":"#fff","stroke":"#000","strokeWidth":1.2,"opacity":1,"xOffset":-6},
"encoding":{"x":{"datum":"d1","type":"nominal","axis":null},"y":{"field":"row","type":"nominal","axis":null}}},
{"data":{"name":"rows"},"transform":[{"filter":"datum.row=='r2'"}],"mark":{"type":"point","shape":"M-1,-0.55L1,-0.55L1,0.55L-1,0.55Z","size":400,"filled":true,"fill":"#000","stroke":"#000","strokeWidth":1.2,"opacity":1,"xOffset":-6},
"encoding":{"x":{"datum":"d1","type":"nominal","axis":null},"y":{"field":"row","type":"nominal","axis":null}}},
{"data":{"name":"rows"},"transform":[{"filter":"datum.row=='r3'"}],"mark":{"type":"point","shape":"M-1,-0.55L1,-0.55L1,0.55L-1,0.55Z","size":400,"filled":true,"stroke":"#000","strokeWidth":1.2,"opacity":1,"xOffset":-6,"fill":{"gradient":"linear","x1":0,"y1":1,"x2":1.2,"y2":0.34,"stops":[
{"offset":0,"color":"#000"},{"offset":0.1,"color":"#000"},{"offset":0.1,"color":"#fff"},{"offset":0.2,"color":"#fff"},
{"offset":0.2,"color":"#000"},{"offset":0.3,"color":"#000"},{"offset":0.3,"color":"#fff"},{"offset":0.4,"color":"#fff"},
{"offset":0.4,"color":"#000"},{"offset":0.5,"color":"#000"},{"offset":0.5,"color":"#fff"},{"offset":0.6,"color":"#fff"},
{"offset":0.6,"color":"#000"},{"offset":0.7,"color":"#000"},{"offset":0.7,"color":"#fff"},{"offset":0.8,"color":"#fff"},
{"offset":0.8,"color":"#000"},{"offset":0.9,"color":"#000"},{"offset":0.9,"color":"#fff"},{"offset":1,"color":"#fff"}
]}},
"encoding":{"x":{"datum":"d1","type":"nominal","axis":null},"y":{"field":"row","type":"nominal","axis":null}}},
{"data":{"values":[{}]},"mark":{"type":"text","dx":-8,"dy":-21,"fontSize":13,"fontWeight":"bold","color":"#000","text":"% Without LPR"},
"encoding":{"x":{"datum":"1st","type":"nominal","axis":null},"y":{"datum":"h","type":"nominal","axis":null}}}
]
}
],
"resolve":{"scale":{"x":"independent","y":"independent"}}
}
